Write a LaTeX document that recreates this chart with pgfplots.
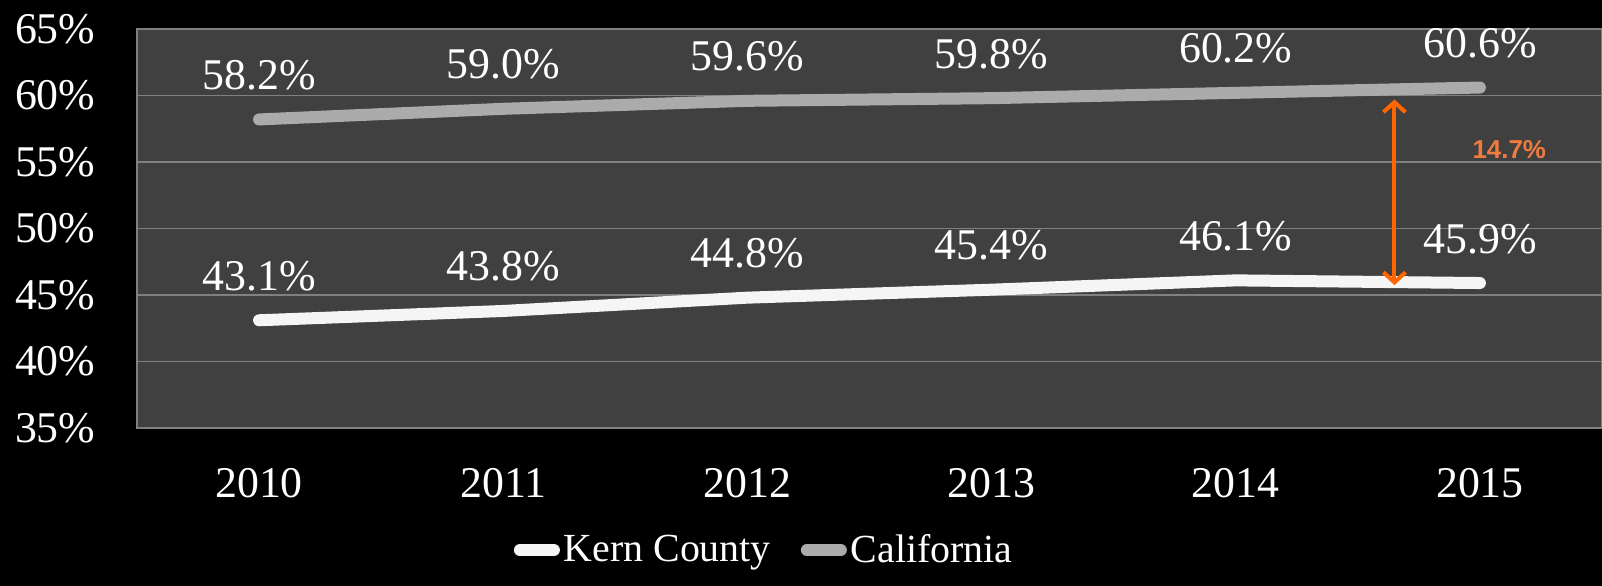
\documentclass[border=0pt]{standalone}
\usepackage{pgfplots}
\pgfplotsset{compat=1.18}
\usepackage{fontspec}
\setmainfont{Liberation Serif}
\newfontfamily\sansfont{Liberation Sans}
\usetikzlibrary{arrows.meta}
\definecolor{bgplot}{HTML}{404040}
\definecolor{gridc}{HTML}{808080}
\definecolor{calif}{HTML}{ABABAB}
\definecolor{kern}{HTML}{F5F5F5}
\definecolor{arrowc}{HTML}{FF6600}
\definecolor{labc}{HTML}{F07B3F}
\newcommand{\bigfont}{\fontsize{22}{24}\selectfont}
\newcommand{\legfont}{\fontsize{20}{22}\selectfont}
\begin{document}
\begin{tikzpicture}
\useasboundingbox (-68.5bp,-79bp) rectangle (732.5bp,214bp);
\fill[black] (-68.5bp,-79bp) rectangle (732.5bp,214bp);
\begin{axis}[
  scale only axis, width=732.5bp, height=199.5bp,
  at={(0,0)}, anchor=south west,
  xmin=-0.5, xmax=5.5, ymin=35, ymax=65,
  xtick={0,1,2,3,4,5},
  xticklabels={2010,2011,2012,2013,2014,2015},
  ytick={35,40,45,50,55,60,65},
  yticklabel={\pgfmathprintnumber{\tick}\%},
  /pgf/number format/assume math mode=true,
  major tick length=0pt,
  ymajorgrids, grid style={gridc, line width=0.8bp},
  axis line style={gridc, line width=0.8bp},
  axis background/.style={fill=bgplot},
  tick label style={white, font=\bigfont},
  yticklabel style={xshift=-17.3bp},
  xticklabel style={yshift=-16.8bp},
  clip=false,
  legend style={at={(0.257,-0.306)}, anchor=west, draw=none, fill=none,
    text=white, font=\legfont, inner sep=0pt,
    /tikz/every even column/.append style={column sep=13bp}},
  legend columns=2,
  legend image code/.code={\draw[#1, line width=6bp, line cap=round] (0bp,0bp) -- (17bp,0bp);},
]
\addplot[kern, line width=6bp, line cap=round,
  nodes near coords={\pgfmathprintnumber[fixed,fixed zerofill,precision=1]{\pgfplotspointmeta}\%},
  every node near coord/.append style={text=white, font=\bigfont, anchor=base, yshift=15bp}]
  coordinates {(0,43.1) (1,43.8) (2,44.8) (3,45.4) (4,46.1) (5,45.9)};
\addlegendentry{Kern County}
\addplot[calif, line width=6bp, line cap=round,
  nodes near coords={\pgfmathprintnumber[fixed,fixed zerofill,precision=1]{\pgfplotspointmeta}\%},
  every node near coord/.append style={text=white, font=\bigfont, anchor=base, yshift=15bp}]
  coordinates {(0,58.2) (1,59.0) (2,59.6) (3,59.8) (4,60.2) (5,60.6)};
\addlegendentry{California}
\draw[arrowc, line width=2bp, {Straight Barb[length=5bp,width=11bp]}-{Straight Barb[length=5bp,width=11bp]}]
  (axis cs:4.65,59.7) -- (axis cs:4.65,45.75);
\node[labc, font=\sansfont\bfseries\fontsize{13}{15}\selectfont] at (axis cs:5.12,55.9) {14.7\%};
\end{axis}
\end{tikzpicture}
\end{document}
